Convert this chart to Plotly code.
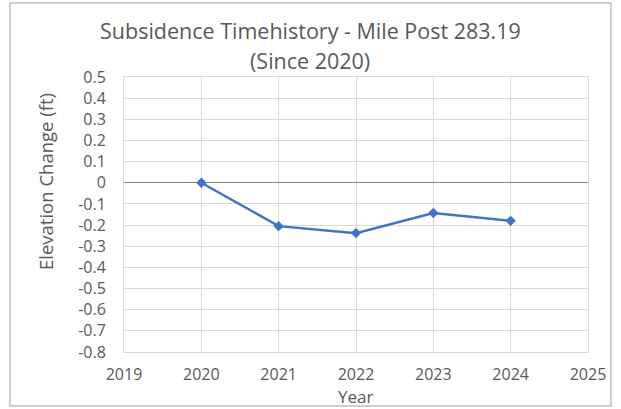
import plotly.graph_objects as go

years = [2020, 2021, 2022, 2023, 2024]
elevation_change = [0.0, -0.205, -0.238, -0.143, -0.18]

x_ticks = [2019, 2020, 2021, 2022, 2023, 2024, 2025]
y_ticks = [0.5, 0.4, 0.3, 0.2, 0.1, 0.0, -0.1, -0.2, -0.3, -0.4, -0.5, -0.6, -0.7, -0.8]
y_tick_labels = ["0.5", "0.4", "0.3", "0.2", "0.1", "0", "-0.1", "-0.2", "-0.3",
                 "-0.4", "-0.5", "-0.6", "-0.7", "-0.8"]

title_line1 = "Subsidence Timehistory - Mile Post 283.19"
title_line2 = "(Since 2020)"
x_title = "Year"
y_title = "Elevation Change (ft)"

W, H = 621, 409
L, R, T, B = 124, 33, 77, 57
pw, ph = W - L - R, H - T - B


def px_x(x):
    return (x - L) / pw


def px_y(y):
    return (H - B - y) / ph


fig = go.Figure()
fig.add_trace(go.Scatter(
    x=years, y=elevation_change, mode="lines+markers",
    line=dict(color="#4472C4", width=2.5),
    marker=dict(symbol="diamond", size=8, color="#4472C4"),
    showlegend=False,
))

font_family = "Open Sans, Liberation Sans, sans-serif"
gray = "#595959"

fig.update_layout(
    width=W, height=H,
    margin=dict(l=L, r=R, t=T, b=B, autoexpand=False),
    paper_bgcolor="white", plot_bgcolor="white",
    font=dict(family=font_family, color=gray),
    xaxis=dict(
        range=[2019, 2025], tickvals=x_ticks, ticktext=[str(v) for v in x_ticks],
        showgrid=True, gridcolor="#D9D9D9", gridwidth=1,
        zeroline=False, showline=True, linecolor="#D9D9D9", mirror=True,
        tickfont=dict(size=16, color=gray), ticks="", ticklabelstandoff=8,
    ),
    yaxis=dict(
        range=[-0.8, 0.5], tickvals=y_ticks, ticktext=y_tick_labels,
        showgrid=True, gridcolor="#D9D9D9", gridwidth=1,
        zeroline=True, zerolinecolor="#868686", zerolinewidth=1,
        showline=True, linecolor="#D9D9D9", mirror=True,
        tickfont=dict(size=16, color=gray), ticks="", ticklabelstandoff=14,
    ),
    shapes=[dict(
        type="rect", xref="paper", yref="paper",
        x0=px_x(10), x1=px_x(611), y0=px_y(406), y1=px_y(3),
        line=dict(color="#BFBFBF", width=1.5), fillcolor="rgba(0,0,0,0)",
        layer="below",
    )],
    annotations=[
        dict(text=title_line1, x=px_x(310), y=px_y(30), xref="paper", yref="paper",
             showarrow=False, font=dict(size=21.5, color=gray), xanchor="center", yanchor="middle"),
        dict(text=title_line2, x=px_x(310), y=px_y(60), xref="paper", yref="paper",
             showarrow=False, font=dict(size=21.5, color=gray), xanchor="center", yanchor="middle"),
        dict(text=x_title, x=px_x(355), y=px_y(396), xref="paper", yref="paper",
             showarrow=False, font=dict(size=17, color=gray), xanchor="center", yanchor="middle"),
        dict(text=y_title, x=px_x(45), y=px_y(182), xref="paper", yref="paper",
             showarrow=False, font=dict(size=18.5, color=gray), textangle=-90,
             xanchor="center", yanchor="middle"),
    ],
)

fig.write_html("out.html", config={"displayModeBar": False},
               post_script="document.body.style.margin='0';")
